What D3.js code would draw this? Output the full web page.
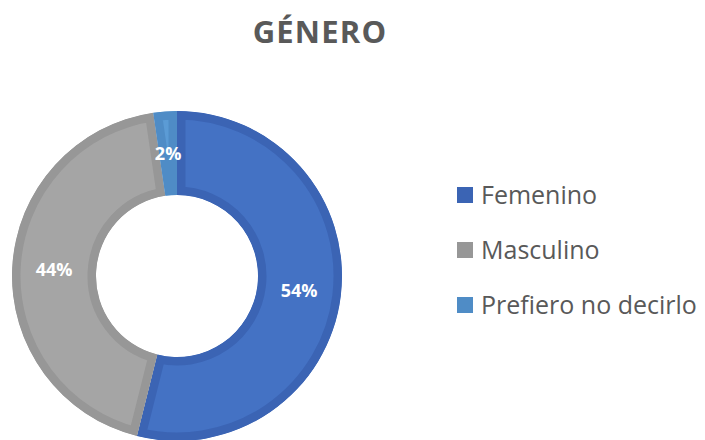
<!DOCTYPE html>
<html>
<head>
<meta charset="utf-8">
<script src="https://cdn.jsdelivr.net/npm/d3@7"></script>
<style>
  body { margin: 0; background: #fff; }
  svg { display: block; }
</style>
</head>
<body>
<script>
    var w = 705; //width of the SVG canvas
    var h = 440; //height of the SVG canvas

    var categories = ["Femenino", "Masculino", "Prefiero no decirlo"];
    var values = [53.9, 43.8, 2.3]; //percent (shown rounded)
    var fills = ["#4472C4", "#A5A5A5", "#5B9BD5"]; //slice fill
    var borders = ["#3B64B4", "#979797", "#4F8CC6"]; //darker slice border

    var cx = 177, cy = 276;
    var outerR = 165, innerR = 81;

    var svg = d3.select("body")
                .append("svg")
                .attr("width", w)
                .attr("height", h);

    //title
    svg.append("text")
        .attr("x", 320)
        .attr("y", 43)
        .attr("text-anchor", "middle")
        .attr("font-family", "'Open Sans', sans-serif")
        .attr("font-weight", "bold")
        .attr("font-size", 31)
        .attr("letter-spacing", 1.2)
        .attr("fill", "#595959")
        .text("GÉNERO");

    var pie = d3.pie().sort(null).value(function(d) {return d;});
    var arcs = pie(values);

    var arc = d3.arc().innerRadius(innerR).outerRadius(outerR);
    var labelArc = d3.arc().innerRadius((innerR + outerR) / 2).outerRadius((innerR + outerR) / 2);

    var g = svg.append("g").attr("transform", "translate(" + cx + "," + cy + ")");
    var defs = svg.append("defs");

    //clip each slice to itself so the border sits on the inside
    arcs.forEach(function(d, i) {
        defs.append("clipPath").attr("id", "clip" + i)
            .append("path").attr("d", arc(d));
    });

    g.selectAll("path.slice")
        .data(arcs)
        .enter()
        .append("path")
        .attr("class", "slice")
        .attr("d", arc)
        .attr("clip-path", function(d, i) {return "url(#clip" + i + ")";})
        .attr("fill", function(d, i) {return fills[i];})
        .attr("stroke", function(d, i) {return borders[i];})
        .attr("stroke-width", 17)
        .attr("stroke-linejoin", "miter");

    //percent labels
    g.selectAll("text.lbl")
        .data(arcs)
        .enter()
        .append("text")
        .attr("class", "lbl")
        .attr("transform", function(d) {return "translate(" + labelArc.centroid(d) + ")";})
        .attr("text-anchor", "middle")
        .attr("dy", "0.35em")
        .attr("font-family", "'Open Sans', sans-serif")
        .attr("font-weight", "bold")
        .attr("font-size", 18)
        .attr("fill", "#fff")
        .text(function(d) {return Math.round(d.value) + "%";});

    //legend
    var legendY = d3.scalePoint().domain(categories).range([195, 305]);

    var legend = svg.selectAll("g.legend")
        .data(categories)
        .enter()
        .append("g")
        .attr("class", "legend")
        .attr("transform", function(d) {return "translate(457," + legendY(d) + ")";});

    legend.append("rect")
        .attr("x", 0)
        .attr("y", -8)
        .attr("width", 16)
        .attr("height", 16)
        .attr("fill", function(d, i) {return borders[i];});

    legend.append("text")
        .attr("x", 24)
        .attr("y", 0)
        .attr("dy", "0.35em")
        .attr("font-family", "'Open Sans', sans-serif")
        .attr("font-size", 25)
        .attr("fill", "#595959")
        .text(function(d) {return d;});
</script>
</body>
</html>
